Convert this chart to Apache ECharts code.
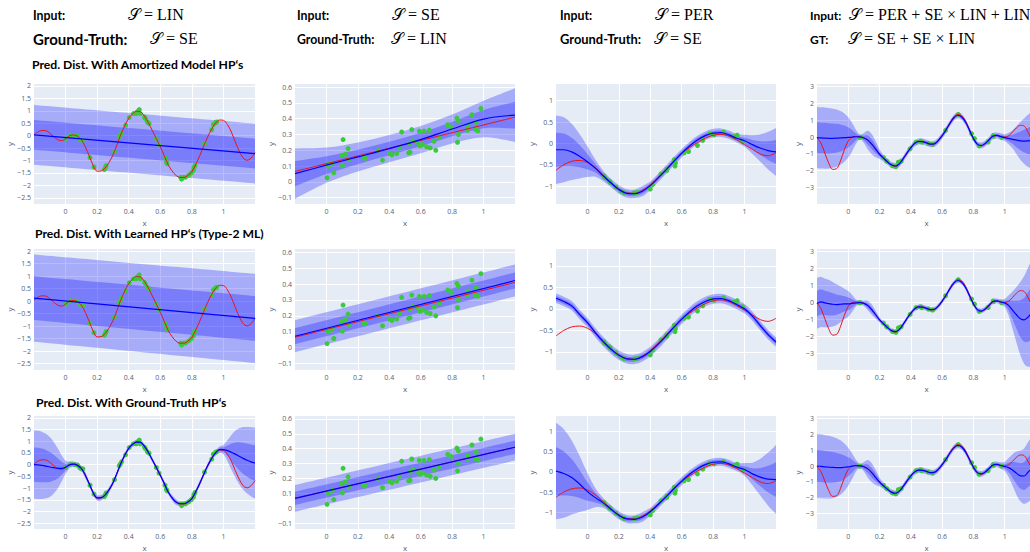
<!DOCTYPE html>
<html><head><meta charset="utf-8">
<script src="https://cdn.jsdelivr.net/npm/echarts@6/dist/echarts.min.js"></script>
<style>html,body{margin:0;padding:0;background:#fff;overflow:hidden}#c{width:1040px;height:552px}</style>
</head><body><div id="c"></div><script>
// ---------- x grids ----------
const X57 = [-0.2,-0.175,-0.15,-0.125,-0.1,-0.075,-0.05,-0.025,
  0,0.025,0.05,0.075,0.1,0.125,0.15,0.175,0.2,0.225,
  0.25,0.275,0.3,0.325,0.35,0.375,0.4,0.425,0.45,0.475,
  0.5,0.525,0.55,0.575,0.6,0.625,0.65,0.675,0.7,0.725,
  0.75,0.775,0.8,0.825,0.85,0.875,0.9,0.925,0.95,0.975,
  1,1.025,1.05,1.075,1.1,1.125,1.15,1.175,1.2];
const X29 = [-0.2,-0.15,-0.1,-0.05,0,0.05,0.1,0.15,0.2,0.25,0.3,0.35,0.4,0.45,0.5,0.55,0.6,0.65,0.7,0.75,0.8,0.85,0.9,0.95,1,1.05,1.1,1.15,1.2];
const X8 = [-0.2,0,0.2,0.4,0.6,0.8,1,1.2];
const XEND = [-0.2,1.2];

// ---------- tick labels ----------
const xTicks = [0,0.2,0.4,0.6,0.8,1];
const c1YTicks = [-2.5,-2,-1.5,-1,-0.5,0,0.5,1,1.5,2];
const c2YTicks = [-0.1,0,0.1,0.2,0.3,0.4,0.5,0.6];
const c3YTicks = [-1,-0.5,0,0.5,1];
const c4YTicks = [-3,-2,-1,0,1,2,3];

// ---------- texts ----------
const inputLabels = ['Input:','Input:','Input:','Input:'];
const gtLabels = ['Ground-Truth:','Ground-Truth:','Ground-Truth:','GT:'];
const inputKernels = ['𝒮 = LIN','𝒮 = SE','𝒮 = PER','𝒮 = PER + SE × LIN + LIN'];
const gtKernels = ['𝒮 = SE','𝒮 = LIN','𝒮 = SE','𝒮 = SE + SE × LIN'];
const rowTitles = ['Pred. Dist. With Amortized Model HP‘s','Pred. Dist. With Learned HP‘s (Type-2 ML)','Pred. Dist. With Ground-Truth HP‘s'];

// ---------- column 1 (true function SE) ----------
const c1PtsX = [0.002,0.032,0.06,0.076,0.091,0.1,0.11,0.155,0.18,0.246,0.253,0.257,0.31,0.34,0.346,0.355,0.38,0.403,0.43,0.448,0.452,0.46,0.467,0.473,0.5,0.505,0.518,0.529,0.575,0.592,0.63,0.639,0.643,0.73,0.735,0.745,0.76,0.78,0.796,0.81,0.813,0.82,0.88,0.926,0.936,0.951,0.957];
const c1PtsY = [-0.12,0.02,0.0,-0.02,-0.14,-0.18,-0.18,-0.88,-1.26,-1.36,-1.28,-1.21,-0.64,-0.05,0.02,0.12,0.42,0.73,0.89,0.89,0.95,0.99,1.05,0.89,0.75,0.69,0.55,0.49,-0.12,-0.36,-0.88,-1.06,-1.12,-1.68,-1.75,-1.68,-1.67,-1.59,-1.5,-1.39,-1.28,-1.19,-0.32,0.24,0.45,0.53,0.55];
const c1Truth = [0.03,0.15,0.21,0.2,0.1,-0.04,-0.16,-0.2,
  -0.12,0.0,0.03,-0.02,-0.16,-0.45,-0.82,-1.2,-1.43,-1.42,
  -1.3,-1.08,-0.78,-0.38,0.05,0.4,0.7,0.88,0.98,0.96,
  0.78,0.52,0.2,-0.12,-0.45,-0.8,-1.17,-1.42,-1.6,-1.68,
  -1.68,-1.6,-1.45,-1.15,-0.8,-0.42,-0.05,0.26,0.5,0.63,
  0.62,0.45,0.15,-0.25,-0.62,-0.9,-0.99,-0.9,-0.68];
const r1c1Mean = [0.03,-0.72], r1c1Sd = [0.6,0.6];
const r2c1Mean = [0.12,-0.69], r2c1Sd = [0.87,0.89];
const r3c1Mean = [0.0,-0.01,-0.03,-0.06,-0.1,-0.13,-0.16,-0.16,
  -0.11,-0.01,0.02,-0.03,-0.16,-0.45,-0.82,-1.2,-1.42,-1.41,
  -1.3,-1.08,-0.78,-0.38,0.05,0.4,0.7,0.87,0.96,0.95,
  0.78,0.52,0.2,-0.12,-0.45,-0.8,-1.17,-1.42,-1.6,-1.67,
  -1.67,-1.6,-1.45,-1.15,-0.8,-0.42,-0.05,0.26,0.5,0.64,
  0.64,0.6,0.53,0.45,0.36,0.27,0.19,0.12,0.07];
const r3c1Sd = [0.73,0.73,0.72,0.69,0.64,0.55,0.43,0.28,
  0.14,0.07,0.06,0.05,0.05,0.07,0.05,0.05,0.06,0.06,
  0.05,0.06,0.05,0.05,0.05,0.05,0.05,0.05,0.05,0.05,
  0.05,0.05,0.05,0.05,0.05,0.05,0.05,0.06,0.06,0.05,
  0.05,0.05,0.05,0.05,0.06,0.05,0.06,0.05,0.05,0.07,
  0.1,0.22,0.37,0.5,0.6,0.67,0.71,0.74,0.76];

// ---------- column 2 (true function LIN) ----------
const c2PtsX = [0.004,0.011,0.013,0.038,0.047,0.096,0.102,0.106,0.119,0.138,0.143,0.238,0.247,0.33,0.357,0.40,0.417,0.447,0.464,0.479,0.523,0.532,0.532,0.543,0.549,0.583,0.591,0.596,0.611,0.621,0.638,0.655,0.66,0.685,0.696,0.717,0.772,0.794,0.83,0.834,0.84,0.84,0.898,0.90,0.926,0.947,0.953,0.964,0.983];
const c2PtsY = [0.026,0.112,0.10,0.12,0.058,0.167,0.104,0.268,0.175,0.211,0.144,0.154,0.15,0.20,0.138,0.18,0.171,0.18,0.215,0.316,0.184,0.188,0.243,0.331,0.26,0.249,0.322,0.228,0.236,0.322,0.222,0.327,0.215,0.257,0.20,0.28,0.362,0.348,0.404,0.251,0.386,0.30,0.327,0.356,0.425,0.333,0.377,0.323,0.465];
const c2Truth = [0.066,0.41];
const r1c2Mean = [0.052,0.106,0.158,0.211,0.268,0.335,0.398,0.423];
const r1c2Sd = [0.08,0.056,0.046,0.043,0.043,0.046,0.058,0.085];
const r2c2Mean = [0.072,0.422], r2c2Sd = [0.05,0.05];
const r3c2Mean = [0.066,0.41], r3c2Sd = [0.045,0.045];

// ---------- column 3 (true function SE) ----------
const c3PtsX = [0.104,0.11,0.138,0.145,0.18,0.213,0.234,0.296,0.317,0.40,0.415,0.468,0.504,0.506,0.553,0.557,0.56,0.615,0.643,0.70,0.734,0.777,0.806,0.866,0.93,0.953,0.987];
const c3PtsY = [-0.76,-0.80,-0.88,-0.91,-1.02,-1.12,-1.16,-1.16,-1.15,-1.07,-0.96,-0.72,-0.64,-0.60,-0.38,-0.53,-0.46,-0.22,-0.19,-0.05,0.07,0.22,0.20,0.26,0.16,0.19,0.05];
const c3Truth = [-0.63,-0.5,-0.42,-0.4,-0.45,-0.57,-0.74,-0.92,-1.07,-1.16,-1.17,-1.1,-0.97,-0.8,-0.62,-0.42,-0.24,-0.1,0.02,0.12,0.19,0.21,0.17,0.08,-0.03,-0.14,-0.25,-0.29,-0.22];
const r1c3Mean = [-0.15,-0.15,-0.2,-0.3,-0.43,-0.58,-0.76,-0.93,-1.08,-1.17,-1.18,-1.12,-0.99,-0.81,-0.62,-0.42,-0.23,-0.06,0.08,0.18,0.24,0.25,0.2,0.12,0.06,-0.03,-0.11,-0.17,-0.2];
const r1c3Sd = [0.4,0.38,0.33,0.26,0.18,0.1,0.06,0.05,0.05,0.05,0.05,0.06,0.05,0.05,0.05,0.05,0.05,0.05,0.05,0.05,0.05,0.05,0.05,0.05,0.07,0.11,0.16,0.22,0.28];
const r2c3Mean = [0.245,0.17,0.07,-0.13,-0.32,-0.55,-0.76,-0.94,-1.08,-1.16,-1.17,-1.11,-0.99,-0.82,-0.63,-0.43,-0.24,-0.07,0.07,0.17,0.23,0.24,0.19,0.1,0.0,-0.17,-0.39,-0.6,-0.77];
const r2c3Sd = [0.055,0.055,0.055,0.055,0.055,0.055,0.055,0.055,0.055,0.055,0.055,0.055,0.055,0.055,0.055,0.055,0.055,0.055,0.055,0.055,0.055,0.055,0.055,0.055,0.055,0.055,0.055,0.055,0.055];
const r3c3Mean = [0.02,-0.04,-0.14,-0.3,-0.49,-0.64,-0.77,-0.93,-1.08,-1.17,-1.18,-1.12,-0.99,-0.81,-0.62,-0.42,-0.23,-0.06,0.08,0.18,0.24,0.25,0.2,0.12,0.06,-0.05,-0.13,-0.18,-0.19];
const r3c3Sd = [0.6,0.55,0.46,0.35,0.23,0.12,0.06,0.05,0.05,0.05,0.05,0.06,0.05,0.05,0.05,0.05,0.05,0.05,0.05,0.05,0.05,0.05,0.05,0.05,0.08,0.14,0.23,0.33,0.43];

// ---------- column 4 (true function SE + SE x LIN) ----------
const c4PtsX = [0.07,0.079,0.225,0.246,0.282,0.304,0.32,0.338,0.395,0.433,0.463,0.47,0.512,0.539,0.622,0.703,0.788,0.807,0.836,0.894,0.926,0.928,0.98];
const c4PtsY = [-0.01,-0.01,-1.21,-1.43,-1.70,-1.76,-1.49,-1.43,-0.70,-0.30,-0.25,-0.30,-0.38,-0.44,0.40,1.35,0.21,-0.09,-0.52,-0.29,0.09,0.05,-0.01];
const c4Truth = [-0.03,-0.35,-0.95,-1.55,-1.92,-1.88,-1.42,-0.75,
  -0.22,0.0,0.03,0.01,-0.04,-0.17,-0.42,-0.72,-1.02,-1.25,
  -1.47,-1.66,-1.74,-1.6,-1.3,-0.95,-0.62,-0.36,-0.25,-0.27,
  -0.34,-0.43,-0.4,-0.2,0.1,0.45,0.85,1.2,1.35,1.27,
  0.95,0.45,-0.07,-0.43,-0.52,-0.4,-0.18,0.05,0.1,0.03,
  0.0,0.08,0.3,0.55,0.7,0.65,0.28,-0.2,-0.6];
const r1c4Mean = [-0.03,-0.05,-0.06,-0.07,-0.07,-0.06,-0.05,-0.03,
  -0.02,0.0,0.02,0.01,-0.05,-0.18,-0.42,-0.72,-1.02,-1.25,
  -1.47,-1.65,-1.72,-1.6,-1.3,-0.95,-0.63,-0.37,-0.26,-0.27,
  -0.34,-0.42,-0.4,-0.21,0.08,0.43,0.82,1.15,1.3,1.2,
  0.88,0.4,-0.08,-0.42,-0.5,-0.38,-0.16,0.06,0.1,0.03,
  -0.03,-0.08,-0.13,-0.18,-0.22,-0.24,-0.22,-0.19,-0.17];
const r1c4Sd = [0.91,0.91,0.91,0.9,0.88,0.85,0.8,0.72,
  0.6,0.42,0.2,0.07,0.15,0.28,0.3,0.24,0.14,0.1,
  0.09,0.09,0.09,0.09,0.09,0.09,0.09,0.09,0.09,0.09,
  0.09,0.09,0.09,0.09,0.09,0.09,0.09,0.09,0.09,0.09,
  0.09,0.09,0.09,0.09,0.09,0.09,0.09,0.09,0.09,0.1,
  0.1,0.17,0.27,0.42,0.56,0.68,0.78,0.84,0.88];
const r2c4Mean = [-0.06,0.04,-0.02,-0.06,-0.1,-0.12,-0.1,-0.08,
  -0.08,-0.05,-0.02,0.0,-0.05,-0.18,-0.42,-0.72,-1.02,-1.25,
  -1.47,-1.65,-1.72,-1.6,-1.3,-0.95,-0.63,-0.37,-0.26,-0.27,
  -0.34,-0.42,-0.4,-0.21,0.08,0.43,0.82,1.15,1.3,1.2,
  0.88,0.4,-0.08,-0.42,-0.5,-0.38,-0.16,0.06,0.1,0.03,
  -0.02,-0.17,-0.45,-0.72,-0.95,-1.02,-0.85,-0.6,-0.45];
const r2c4Sd = [0.75,0.74,0.72,0.7,0.66,0.6,0.53,0.45,
  0.38,0.25,0.1,0.05,0.08,0.14,0.15,0.12,0.08,0.07,
  0.07,0.07,0.07,0.07,0.07,0.07,0.07,0.07,0.07,0.07,
  0.07,0.07,0.07,0.07,0.07,0.07,0.07,0.07,0.07,0.07,
  0.07,0.07,0.07,0.07,0.07,0.07,0.07,0.07,0.07,0.08,
  0.12,0.3,0.55,0.82,1.08,1.3,1.47,1.58,1.65];
const r3c4Mean = [0.0,-0.02,-0.05,-0.07,-0.09,-0.1,-0.1,-0.08,
  -0.05,-0.01,0.02,0.01,-0.05,-0.18,-0.42,-0.72,-1.02,-1.25,
  -1.47,-1.65,-1.72,-1.6,-1.3,-0.95,-0.63,-0.37,-0.26,-0.27,
  -0.34,-0.42,-0.4,-0.21,0.08,0.43,0.82,1.15,1.3,1.2,
  0.88,0.4,-0.08,-0.42,-0.5,-0.38,-0.16,0.06,0.1,0.03,
  -0.03,-0.1,-0.25,-0.45,-0.62,-0.63,-0.38,-0.15,0.0];
const r3c4Sd = [1.01,1.01,1.0,0.99,0.97,0.93,0.86,0.75,
  0.6,0.4,0.18,0.07,0.15,0.28,0.3,0.24,0.14,0.1,
  0.09,0.09,0.09,0.09,0.09,0.09,0.09,0.09,0.09,0.09,
  0.09,0.09,0.09,0.09,0.09,0.09,0.09,0.09,0.09,0.09,
  0.09,0.09,0.09,0.09,0.09,0.09,0.09,0.09,0.09,0.1,
  0.14,0.3,0.5,0.68,0.8,0.88,0.95,0.98,1.0];

// ---------- assembly ----------
const columns = [
  {tx: X57, ty: c1Truth, px: c1PtsX, py: c1PtsY, ticks: c1YTicks, min: -2.75, max: 2.08},
  {tx: XEND, ty: c2Truth, px: c2PtsX, py: c2PtsY, ticks: c2YTicks, min: -0.14, max: 0.62},
  {tx: X29, ty: c3Truth, px: c3PtsX, py: c3PtsY, ticks: c3YTicks, min: -1.42, max: 1.39},
  {tx: X57, ty: c4Truth, px: c4PtsX, py: c4PtsY, ticks: c4YTicks, min: -3.98, max: 3.16}
];
const panels = [
  {r:0,c:0,x:XEND,m:r1c1Mean,s:r1c1Sd},{r:0,c:1,x:X8,m:r1c2Mean,s:r1c2Sd},{r:0,c:2,x:X29,m:r1c3Mean,s:r1c3Sd},{r:0,c:3,x:X57,m:r1c4Mean,s:r1c4Sd},
  {r:1,c:0,x:XEND,m:r2c1Mean,s:r2c1Sd},{r:1,c:1,x:XEND,m:r2c2Mean,s:r2c2Sd},{r:1,c:2,x:X29,m:r2c3Mean,s:r2c3Sd},{r:1,c:3,x:X57,m:r2c4Mean,s:r2c4Sd},
  {r:2,c:0,x:X57,m:r3c1Mean,s:r3c1Sd},{r:2,c:1,x:XEND,m:r3c2Mean,s:r3c2Sd},{r:2,c:2,x:X29,m:r3c3Mean,s:r3c3Sd},{r:2,c:3,x:X57,m:r3c4Mean,s:r3c4Sd}
];
const gridLefts = [34, 295, 556, 817], gridWidths = [221, 220, 220, 219];
const gridTops = [84, 249, 416], gridHeights = [120, 121, 120];
const yNameGaps = [20, 20, 20, 16];

const BAND = 'rgba(0,0,255,0.27)';
const TICKC = '#55627a';
const fmt = v => String(v).replace('-', '\u2212');

// smooth path (Catmull-Rom) through pixel points produced by the axes
function curveSeg(pts) {
  let d = '';
  for (let i = 0; i < pts.length - 1; i++) {
    const p0 = pts[i - 1] || pts[i], p1 = pts[i], p2 = pts[i + 1], p3 = pts[i + 2] || pts[i + 1];
    const c1 = [p1[0] + (p2[0] - p0[0]) / 6, p1[1] + (p2[1] - p0[1]) / 6];
    const c2 = [p2[0] - (p3[0] - p1[0]) / 6, p2[1] - (p3[1] - p1[1]) / 6];
    d += 'C' + c1[0].toFixed(2) + ',' + c1[1].toFixed(2) + ' ' + c2[0].toFixed(2) + ',' + c2[1].toFixed(2) + ' ' + p2[0].toFixed(2) + ',' + p2[1].toFixed(2);
  }
  return d;
}
function bandSeries(i, xs, m, s, k) {
  return {
    type: 'custom', xAxisIndex: i, yAxisIndex: i, silent: true, animation: false, clip: true,
    data: [[xs[0], m[0]]],
    renderItem: (params, api) => {
      const up = xs.map((x, j) => api.coord([x, m[j] + k * s[j]]));
      const dn = xs.map((x, j) => api.coord([x, m[j] - k * s[j]])).reverse();
      const d = 'M' + up[0][0].toFixed(2) + ',' + up[0][1].toFixed(2) + curveSeg(up) +
        'L' + dn[0][0].toFixed(2) + ',' + dn[0][1].toFixed(2) + curveSeg(dn) + 'Z';
      return {type: 'path', shape: {pathData: d}, style: {fill: BAND, stroke: null}};
    }
  };
}

const grids = [], xAxes = [], yAxes = [], series = [];
panels.forEach((p, i) => {
  const col = columns[p.c];
  grids.push({left: gridLefts[p.c], top: gridTops[p.r], width: gridWidths[p.c], height: gridHeights[p.r],
    show: true, backgroundColor: '#E5ECF6', borderWidth: 0});
  xAxes.push({type: 'value', gridIndex: i, min: -0.2, max: 1.2,
    name: 'x', nameLocation: 'middle', nameGap: 14,
    nameTextStyle: {fontSize: 8, color: TICKC, fontFamily: 'Open Sans'},
    axisLine: {show: false}, axisTick: {show: false, customValues: xTicks},
    axisLabel: {customValues: xTicks, fontSize: 7, color: TICKC, margin: 4, fontFamily: 'Open Sans', formatter: fmt},
    splitLine: {show: true, lineStyle: {color: '#ffffff', width: 1}}});
  yAxes.push({type: 'value', gridIndex: i, min: col.min, max: col.max,
    name: 'y', nameLocation: 'middle', nameGap: yNameGaps[p.c], nameRotate: 90,
    nameTextStyle: {fontSize: 8, color: TICKC, fontFamily: 'Open Sans'},
    axisLine: {show: false}, axisTick: {show: false, customValues: col.ticks},
    axisLabel: {customValues: col.ticks, fontSize: 7, color: TICKC, margin: 3, fontFamily: 'Open Sans', formatter: fmt},
    splitLine: {show: true, lineStyle: {color: '#ffffff', width: 1}}});
  series.push(bandSeries(i, p.x, p.m, p.s, 2));   // ±2σ
  series.push(bandSeries(i, p.x, p.m, p.s, 1));   // ±1σ
  const common = {type: 'line', xAxisIndex: i, yAxisIndex: i, symbol: 'none', smooth: 0.35, silent: true, animation: false};
  series.push(Object.assign({}, common, {lineStyle: {color: '#e8141e', width: 1}, data: col.tx.map((x, j) => [x, col.ty[j]])}));
  series.push(Object.assign({}, common, {lineStyle: {color: '#0000ff', width: 1.2}, data: p.x.map((x, j) => [x, p.m[j]])}));
  series.push({type: 'scatter', xAxisIndex: i, yAxisIndex: i, symbolSize: 5, silent: true, animation: false,
    itemStyle: {color: '#3cc83c', opacity: 1}, data: col.px.map((x, j) => [x, col.py[j]])});
});

// header texts
const labelX = [33, 297, 560, 810];
const inKernelX = [128, 392, 655, 849];
const gtKernelX = [150, 391, 654, 848];
const inFont = ['bold 12.3px Lato', 'bold 12.3px Lato', 'bold 12.3px Lato', 'bold 12px Lato'];
const gtFont = ['bold 15px Lato', 'bold 12.3px Lato', 'bold 12.9px Lato', 'bold 12px Lato'];
const titleX = [32, 35, 36], titleY = [64, 233, 402];
const MATHFONT = "16px 'Liberation Serif', 'DejaVu Serif', serif";
const graphic = [];
for (let c = 0; c < 4; c++) {
  graphic.push({type: 'text', x: labelX[c], y: 15, style: {text: inputLabels[c], font: inFont[c], fill: '#000', verticalAlign: 'middle'}});
  graphic.push({type: 'text', x: labelX[c], y: 39, style: {text: gtLabels[c], font: gtFont[c], fill: '#000', verticalAlign: 'middle'}});
  graphic.push({type: 'text', x: inKernelX[c], y: 14, style: {text: inputKernels[c], font: MATHFONT, fill: '#000', verticalAlign: 'middle'}});
  graphic.push({type: 'text', x: gtKernelX[c], y: 38, style: {text: gtKernels[c], font: MATHFONT, fill: '#000', verticalAlign: 'middle'}});
}
for (let r = 0; r < 3; r++) {
  graphic.push({type: 'text', x: titleX[r], y: titleY[r], style: {text: rowTitles[r], font: 'bold 12.2px Lato', fill: '#000', verticalAlign: 'middle'}});
}

const chart = echarts.init(document.getElementById('c'), null, {renderer: 'svg', width: 1040, height: 552});
chart.setOption({animation: false, backgroundColor: '#ffffff', grid: grids, xAxis: xAxes, yAxis: yAxes, series: series, graphic: graphic});
</script></body></html>
